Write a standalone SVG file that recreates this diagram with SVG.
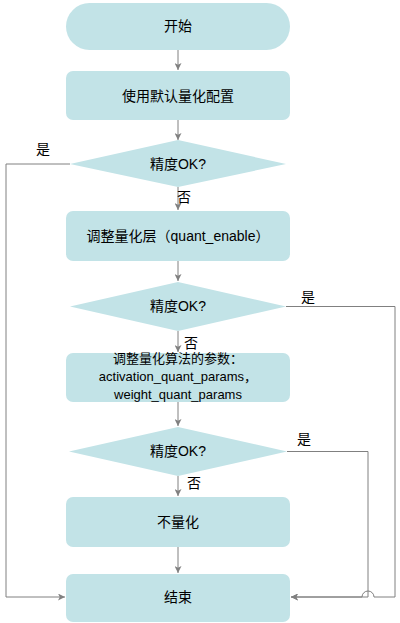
<svg xmlns="http://www.w3.org/2000/svg" width="400" height="623" viewBox="0 0 400 623">
<defs>
<marker id="arr" viewBox="0 0 10 10" refX="10" refY="5" markerWidth="7" markerHeight="7" markerUnits="userSpaceOnUse" orient="auto">
<path d="M0,0 L10,5 L0,10 L2.5,5 Z" fill="#808080"/>
</marker>
</defs>
<style>
.n{fill:#c2e3e7;stroke:none}
.t{font-family:"Liberation Sans","Noto Sans CJK SC",sans-serif;font-size:14px;fill:#000;text-anchor:middle;dominant-baseline:central}
.s{font-size:13px}
.e{fill:none;stroke:#808080;stroke-width:1}
.l{font-family:"Liberation Sans","Noto Sans CJK SC",sans-serif;font-size:14px;fill:#000;text-anchor:middle;dominant-baseline:central}
</style>
<rect width="400" height="623" fill="#fff"/>
<g id="start"><rect class="n" x="66" y="3" width="224" height="47" rx="23.5"/><text class="t" x="178" y="26">开始</text></g>
<g id="default"><rect class="n" x="66" y="71" width="224" height="49" rx="7"/><text class="t" x="178" y="96">使用默认量化配置</text></g>
<g id="check1"><polygon class="n" points="178,140 286,164 178,187 70,164"/><text class="t" x="178" y="164">精度OK?</text></g>
<g id="layer"><rect class="n" x="66" y="211" width="224" height="50" rx="7"/><text class="t" x="178" y="236">调整量化层（quant_enable）</text></g>
<g id="check2"><polygon class="n" points="178,282 286,306.5 178,331 70,306.5"/><text class="t" x="178" y="306">精度OK?</text></g>
<g id="algo"><rect class="n" x="66" y="353" width="224" height="49" rx="7"/><text class="t s" x="178" y="358">调整量化算法的参数：</text><text class="t s" x="178" y="376">activation_quant_params，</text><text class="t s" x="178" y="394">weight_quant_params</text></g>
<g id="check3"><polygon class="n" points="178,427 287,451.5 178,476 69,451.5"/><text class="t" x="178" y="451">精度OK?</text></g>
<g id="noquant"><rect class="n" x="66" y="497" width="224" height="50" rx="7"/><text class="t" x="178" y="522">不量化</text></g>
<g id="end"><rect class="n" x="66" y="574" width="224" height="48" rx="7"/><text class="t" x="178" y="597">结束</text></g>
<g id="edges">
<path class="e" d="M178,50 V70" marker-end="url(#arr)"/>
<path class="e" d="M178,120 V140" marker-end="url(#arr)"/>
<path class="e" d="M178,187 V210" marker-end="url(#arr)"/>
<path class="e" d="M178,261 V281" marker-end="url(#arr)"/>
<path class="e" d="M178,331 V352" marker-end="url(#arr)"/>
<path class="e" d="M178,402 V426" marker-end="url(#arr)"/>
<path class="e" d="M178,476 V496" marker-end="url(#arr)"/>
<path class="e" d="M178,547 V573" marker-end="url(#arr)"/>
<path class="e" d="M70,164 H6 V597 H65" marker-end="url(#arr)"/>
<path class="e" d="M287,451.5 H368 V597 H291" marker-end="url(#arr)"/>
<path class="e" d="M286,306.5 H395 V597 H374 A6,6 0 0 0 362,597 H291" marker-end="url(#arr)"/>
<text class="l" x="43" y="149">是</text>
<text class="l" x="184" y="197">否</text>
<text class="l" x="308" y="297">是</text>
<text class="l" x="191" y="343">否</text>
<text class="l" x="304" y="439">是</text>
<text class="l" x="194" y="483">否</text>
</g>
</svg>
